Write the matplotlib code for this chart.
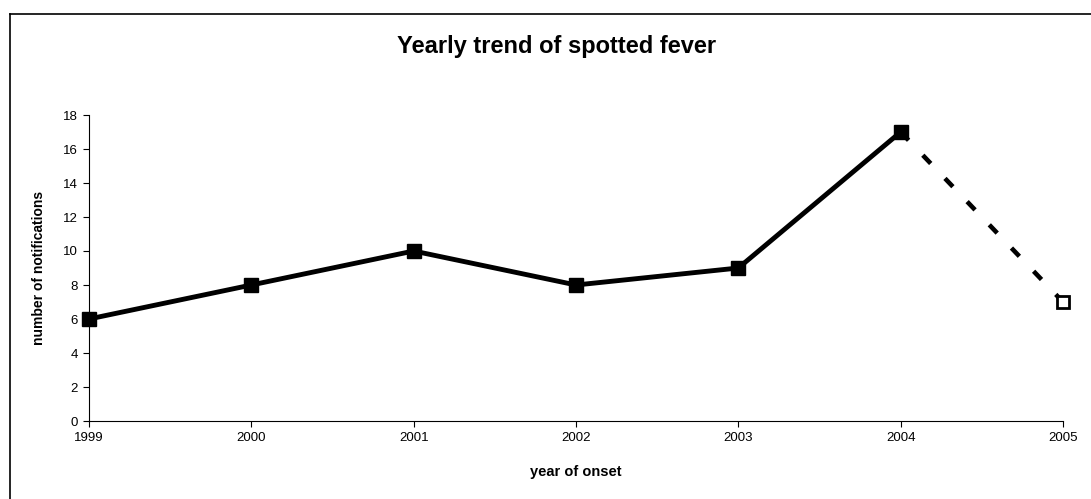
import matplotlib.pyplot as plt
from matplotlib.lines import Line2D

plt.rcParams['font.family'] = ['Liberation Sans', 'DejaVu Sans']

years = [1999, 2000, 2001, 2002, 2003, 2004]
counts = [6, 8, 10, 8, 9, 17]
proj_years = [2004, 2005]
proj_counts = [17, 7]

fig = plt.figure(figsize=(10.91, 4.99), dpi=100)
ax = fig.add_axes([89 / 1091, 1 - 421 / 499, (1063 - 89) / 1091, (421 - 115) / 499])

# dashed projection first so the solid marker sits on top
ax.plot(proj_years, proj_counts, color='black', lw=3.3, dashes=(2.5, 4.5),
        marker='s', markersize=9, markerfacecolor='white', markeredgewidth=2,
        markevery=[1], zorder=2, clip_on=False)
ax.plot(years, counts, color='black', lw=3.5, marker='s', markersize=10,
        zorder=3, clip_on=False)

ax.set_xlim(1999, 2005)
ax.set_ylim(0, 18)
ax.set_xticks(range(1999, 2006))
ax.set_yticks(range(0, 19, 2))
ax.tick_params(labelsize=9.5, length=4, width=0.8, direction='out', pad=4)
ax.spines['top'].set_visible(False)
ax.spines['right'].set_visible(False)
for s in ['left', 'bottom']:
    ax.spines[s].set_linewidth(0.8)

ax.set_xlabel('year of onset', fontsize=10.5, fontweight='bold', labelpad=15)
ax.set_ylabel('number of notifications', fontsize=10, fontweight='bold', labelpad=12)
fig.text(0.51, 1 - 46 / 499, 'Yearly trend of spotted fever', ha='center', va='center',
         fontsize=17, fontweight='bold')

# chart-area frame (left and top edges visible)
fig.add_artist(Line2D([9.5 / 1091, 9.5 / 1091], [0, 1 - 14 / 499], color='black', lw=1.2,
                      transform=fig.transFigure))
fig.add_artist(Line2D([9.5 / 1091, 1], [1 - 14 / 499, 1 - 14 / 499], color='black', lw=1.2,
                      transform=fig.transFigure))

fig.savefig('out.png', dpi=100)
